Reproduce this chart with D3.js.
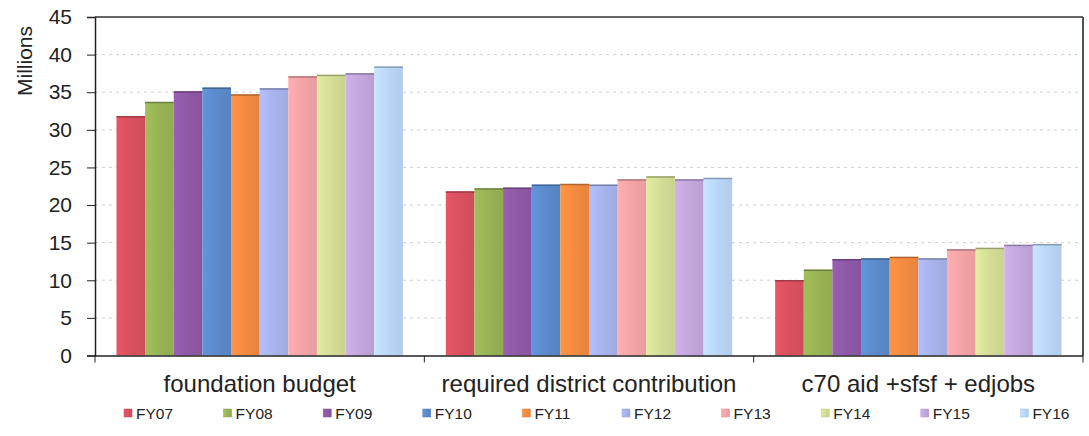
<!DOCTYPE html>
<html>
<head>
<meta charset="utf-8">
<script src="https://cdn.jsdelivr.net/npm/d3@7"></script>
<style>
  html, body { margin: 0; padding: 0; background: #fff; }
  svg { display: block; font-family: "Liberation Sans", Arial, sans-serif; }
</style>
</head>
<body>
<svg id="chart" width="1089" height="436"></svg>
<script>
// Budget components by fiscal year, in millions
const categories = ["foundation budget", "required district contribution", "c70 aid +sfsf + edjobs"];
const years = ["FY07", "FY08", "FY09", "FY10", "FY11", "FY12", "FY13", "FY14", "FY15", "FY16"];
const foundationBudget = [31.8, 33.7, 35.1, 35.6, 34.7, 35.5, 37.1, 37.3, 37.5, 38.4];
const districtContribution = [21.8, 22.2, 22.3, 22.7, 22.8, 22.7, 23.4, 23.8, 23.4, 23.6];
const stateAid = [10.0, 11.4, 12.8, 12.9, 13.1, 12.9, 14.1, 14.3, 14.7, 14.8];
const yTicks = [0, 5, 10, 15, 20, 25, 30, 35, 40, 45];

const seriesByCategory = [foundationBudget, districtContribution, stateAid];
const colors = ["#d9505e", "#97b255", "#8e58a6", "#5a8acb", "#f28a40", "#a6b2ea",
                "#f3a3a6", "#d3dc95", "#c2a6dc", "#b9d5f6"];

const svg = d3.select("#chart");
const m = { left: 95, right: 1083, top: 17, bottom: 355.5 };

const x0 = d3.scaleBand().domain(categories).range([m.left, m.right]).paddingInner(0).paddingOuter(0);
const x1 = d3.scaleBand().domain(years).range([0, x0.bandwidth()]).paddingOuter(0.75).paddingInner(0);
const y = d3.scaleLinear().domain([0, 45]).range([m.bottom, m.top]);

// gradients for the bar fills
const defs = svg.append("defs");
colors.forEach((c, i) => {
  const g = defs.append("linearGradient").attr("id", "g" + i)
    .attr("x1", "0%").attr("x2", "100%").attr("y1", "0%").attr("y2", "0%");
  const base = d3.color(c);
  g.append("stop").attr("offset", "0%").attr("stop-color", base.brighter(0.2));
  g.append("stop").attr("offset", "55%").attr("stop-color", base);
  g.append("stop").attr("offset", "100%").attr("stop-color", base.darker(0.12));
});

// gridlines
svg.append("g").selectAll("line").data(yTicks.filter(t => t > 0 && t < 45)).join("line")
  .attr("x1", m.left).attr("x2", m.right)
  .attr("y1", d => y(d)).attr("y2", d => y(d))
  .attr("stroke", "#cfcfcf").attr("stroke-width", 1).attr("stroke-dasharray", "3,4");

// bars
const groups = svg.append("g").selectAll("g").data(categories).join("g")
  .attr("transform", d => `translate(${x0(d)},0)`);
groups.each(function (cat, ci) {
  const vals = seriesByCategory[ci];
  const g = d3.select(this);
  g.selectAll("rect").data(years).join("rect")
    .attr("x", d => x1(d))
    .attr("y", (d, i) => y(vals[i]))
    .attr("width", x1.bandwidth())
    .attr("height", (d, i) => y(0) - y(vals[i]))
    .attr("fill", (d, i) => `url(#g${i})`);
  g.selectAll("line.top").data(years).join("line").attr("class", "top")
    .attr("x1", d => x1(d)).attr("x2", d => x1(d) + x1.bandwidth())
    .attr("y1", (d, i) => y(vals[i]) + 0.5).attr("y2", (d, i) => y(vals[i]) + 0.5)
    .attr("stroke", (d, i) => d3.color(colors[i]).darker(0.9)).attr("stroke-width", 1.5);
});

// frame: top and right border
svg.append("line").attr("x1", m.left).attr("x2", m.right).attr("y1", m.top).attr("y2", m.top)
  .attr("stroke", "#333").attr("stroke-width", 1.5);
svg.append("line").attr("x1", m.right).attr("x2", m.right).attr("y1", m.top).attr("y2", m.bottom)
  .attr("stroke", "#4a5550").attr("stroke-width", 2);

// y axis
const yAxis = svg.append("g").attr("transform", `translate(${m.left},0)`)
  .call(d3.axisLeft(y).tickValues(yTicks).tickSize(8).tickPadding(15));
yAxis.select(".domain").attr("stroke", "#222").attr("stroke-width", 1.5);
yAxis.selectAll(".tick line").attr("stroke", "#222");
yAxis.selectAll(".tick text").attr("font-size", 21).attr("fill", "#222")
  .attr("font-family", "Liberation Sans, Arial, sans-serif");

// x axis
const xAxis = svg.append("g").attr("transform", `translate(0,${m.bottom})`)
  .call(d3.axisBottom(x0).tickSize(0));
xAxis.select(".domain").attr("stroke", "#222").attr("stroke-width", 1.5);
xAxis.selectAll(".tick text").attr("font-size", 24).attr("fill", "#222")
  .attr("y", 36).attr("dy", 0)
  .attr("font-family", "Liberation Sans, Arial, sans-serif");
svg.append("g").selectAll("line").data(categories.concat([null])).join("line")
  .attr("x1", (d, i) => m.left + i * x0.bandwidth()).attr("x2", (d, i) => m.left + i * x0.bandwidth())
  .attr("y1", m.bottom).attr("y2", m.bottom + 7)
  .attr("stroke", "#222");

// y axis title
svg.append("text").attr("transform", `translate(32,61) rotate(-90)`)
  .attr("text-anchor", "middle").attr("font-size", 21).attr("fill", "#222").text("Millions");

// legend
const legend = svg.append("g").selectAll("g").data(years).join("g")
  .attr("transform", (d, i) => `translate(${124 + i * 99.6},409)`);
legend.append("rect").attr("width", 8).attr("height", 8).attr("fill", (d, i) => `url(#g${i})`)
  .attr("stroke", (d, i) => d3.color(colors[i]).darker(0.3)).attr("stroke-width", 0.5);
legend.append("text").attr("x", 12).attr("y", 9.5).attr("font-size", 15.5).attr("fill", "#222").text(d => d);
</script>
</body>
</html>
